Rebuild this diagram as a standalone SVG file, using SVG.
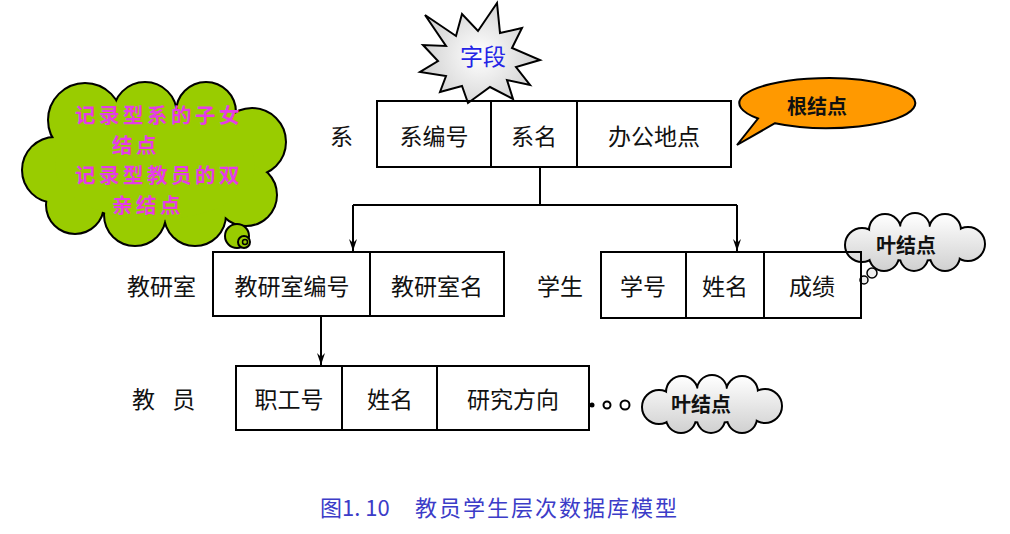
<svg xmlns="http://www.w3.org/2000/svg" xmlns:xlink="http://www.w3.org/1999/xlink" width="1010" height="534" viewBox="0 0 1010 534">
<style>
.box{fill:none;stroke:#000;stroke-width:2}
.fld{font-family:"Noto Sans CJK SC","Liberation Sans",sans-serif;font-size:23px;fill:#111;text-anchor:middle;dominant-baseline:central}
.lbl{font-family:"Noto Sans CJK SC","Liberation Sans",sans-serif;font-size:23px;fill:#111;dominant-baseline:central}
.conn{fill:none;stroke:#000;stroke-width:2}
.outline{fill:#000;stroke:#000;stroke-width:4}
.leaf{font-family:"Noto Sans CJK SC","Liberation Sans",sans-serif;font-size:20px;font-weight:bold;fill:#111;text-anchor:middle;dominant-baseline:central}
.pink{font-family:"Noto Sans CJK SC","Liberation Sans",sans-serif;font-size:20.5px;letter-spacing:3.5px;font-weight:bold;fill:#e63ce6;dominant-baseline:central}
</style>
<defs>
<marker id="arr" markerWidth="12" markerHeight="10" refX="12" refY="5" orient="auto" markerUnits="userSpaceOnUse">
<path d="M0,1 L12,5 L0,9 L4,5 Z" fill="#000"/>
</marker>
<linearGradient id="g1" gradientUnits="userSpaceOnUse" x1="0" y1="214" x2="0" y2="272">
<stop offset="0" stop-color="#ffffff"/><stop offset="1" stop-color="#cfcfcf"/>
</linearGradient>
<radialGradient id="gs" gradientUnits="userSpaceOnUse" cx="480" cy="55" r="55">
<stop offset="0" stop-color="#ffffff"/><stop offset="1" stop-color="#d4d4d4"/>
</radialGradient>
<g id="smallCloud">
<circle cx="862" cy="245" r="16"/>
<circle cx="885" cy="230" r="15"/>
<circle cx="915" cy="228" r="14"/>
<circle cx="945" cy="230" r="15"/>
<circle cx="968" cy="244" r="16"/>
<circle cx="945" cy="256" r="14"/>
<circle cx="914" cy="257" r="13"/>
<circle cx="884" cy="256" r="14"/>
<ellipse cx="914" cy="243" rx="52" ry="17"/>
</g>
<g id="bigCloud">
<circle cx="55" cy="170" r="32"/>
<circle cx="85" cy="120" r="36"/>
<circle cx="145" cy="114" r="31"/>
<circle cx="206" cy="112" r="29"/>
<circle cx="252" cy="142" r="33"/>
<circle cx="246" cy="195" r="30"/>
<circle cx="195" cy="215" r="30"/>
<circle cx="135" cy="215" r="30"/>
<circle cx="75" cy="205" r="28"/>
<ellipse cx="155" cy="165" rx="100" ry="55"/>
</g>
</defs>

<g id="note-children">
<use xlink:href="#bigCloud" class="outline"/>
<use xlink:href="#bigCloud" fill="#99cc00"/>
<circle cx="237" cy="236" r="12" fill="#99cc00" stroke="#000" stroke-width="2"/>
<circle cx="244" cy="242" r="6" fill="#99cc00" stroke="#000" stroke-width="2"/>
<circle cx="245" cy="242" r="2.5" fill="#99cc00" stroke="#000" stroke-width="1.5"/>
<text class="pink" x="75" y="114">记录型系的子女</text>
<text class="pink" x="112" y="144">结点</text>
<text class="pink" x="75" y="174">记录型教员的双</text>
<text class="pink" x="112" y="204">亲结点</text>
</g>

<g id="note-field">
<polygon points="425,15 456,36 462,14 478,31 497,3 500,33 522,28 512,48 540,60 516,67 530,85 507,80 513,99 490,87 468,103 462,86 440,92 446,76 420,72 438,61 423,45 446,46" fill="url(#gs)" stroke="#000" stroke-width="2" stroke-linejoin="miter"/>
<text x="483" y="55" font-family="'Noto Sans CJK SC','Liberation Sans',sans-serif" font-size="23" fill="#2424e6" text-anchor="middle" dominant-baseline="central">字段</text>
</g>

<g id="note-root">
<path d="M775,123.2 L737,145 L758,118.5 A88 25 0 1 1 775,123.2 Z" fill="#ff9900" stroke="#000" stroke-width="2"/>
<text class="leaf" x="817" y="105" font-size="22">根结点</text>
</g>

<g id="note-leaf1">
<use xlink:href="#smallCloud" class="outline"/>
<use xlink:href="#smallCloud" fill="url(#g1)"/>
<circle cx="872" cy="273" r="5" fill="#eeeeee" stroke="#000" stroke-width="1.5"/>
<circle cx="864" cy="280" r="4" fill="#eeeeee" stroke="#000" stroke-width="1.5"/>
<text class="leaf" x="906" y="244">叶结点</text>
</g>

<g id="note-leaf2">
<g transform="translate(-203,162)">
<use xlink:href="#smallCloud" class="outline"/>
<use xlink:href="#smallCloud" fill="url(#g1)"/>
</g>
<circle cx="592" cy="405" r="2.5" fill="#000"/>
<circle cx="607" cy="405" r="3.5" fill="none" stroke="#000" stroke-width="2"/>
<circle cx="625" cy="405" r="4.5" fill="none" stroke="#000" stroke-width="2"/>
<text class="leaf" x="701" y="403">叶结点</text>
</g>

<g id="connectors">
<path class="conn" d="M540,167 V205"/>
<path class="conn" d="M353,205 H737"/>
<path class="conn" d="M353,205 V251" marker-end="url(#arr)"/>
<path class="conn" d="M737,205 V251" marker-end="url(#arr)"/>
<path class="conn" d="M321,316 V365" marker-end="url(#arr)"/>
</g>

<g id="node-xi">
<text class="lbl" x="330" y="135">系</text>
<rect class="box" x="377" y="101" width="354" height="66"/>
<path class="box" d="M491,101 V167 M577,101 V167"/>
<text class="fld" x="434" y="135">系编号</text>
<text class="fld" x="534" y="135">系名</text>
<text class="fld" x="654" y="135">办公地点</text>
</g>

<g id="node-jiaoyanshi">
<text class="lbl" x="127" y="285">教研室</text>
<rect class="box" x="213" y="252" width="291" height="64"/>
<path class="box" d="M370,252 V316"/>
<text class="fld" x="292" y="285">教研室编号</text>
<text class="fld" x="437" y="285">教研室名</text>
</g>

<g id="node-xuesheng">
<text class="lbl" x="537" y="285">学生</text>
<rect class="box" x="601" y="252" width="260" height="66"/>
<path class="box" d="M686,252 V318 M764,252 V318"/>
<text class="fld" x="643" y="285">学号</text>
<text class="fld" x="725" y="285">姓名</text>
<text class="fld" x="812" y="285">成绩</text>
</g>

<g id="node-jiaoyuan">
<text class="lbl" x="132" y="398" letter-spacing="6">教 员</text>
<rect class="box" x="236" y="366" width="353" height="64"/>
<path class="box" d="M342,366 V430 M437,366 V430"/>
<text class="fld" x="289" y="398">职工号</text>
<text class="fld" x="390" y="398">姓名</text>
<text class="fld" x="513" y="398">研究方向</text>
</g>

<g id="caption">
<text font-family="'Noto Sans CJK SC','Liberation Sans',sans-serif" font-size="22" fill="#3c3cc8" y="506" dominant-baseline="central"><tspan x="320">图1. 10</tspan><tspan x="415" letter-spacing="2">教员学生层次数据库模型</tspan></text>
</g>
</svg>
